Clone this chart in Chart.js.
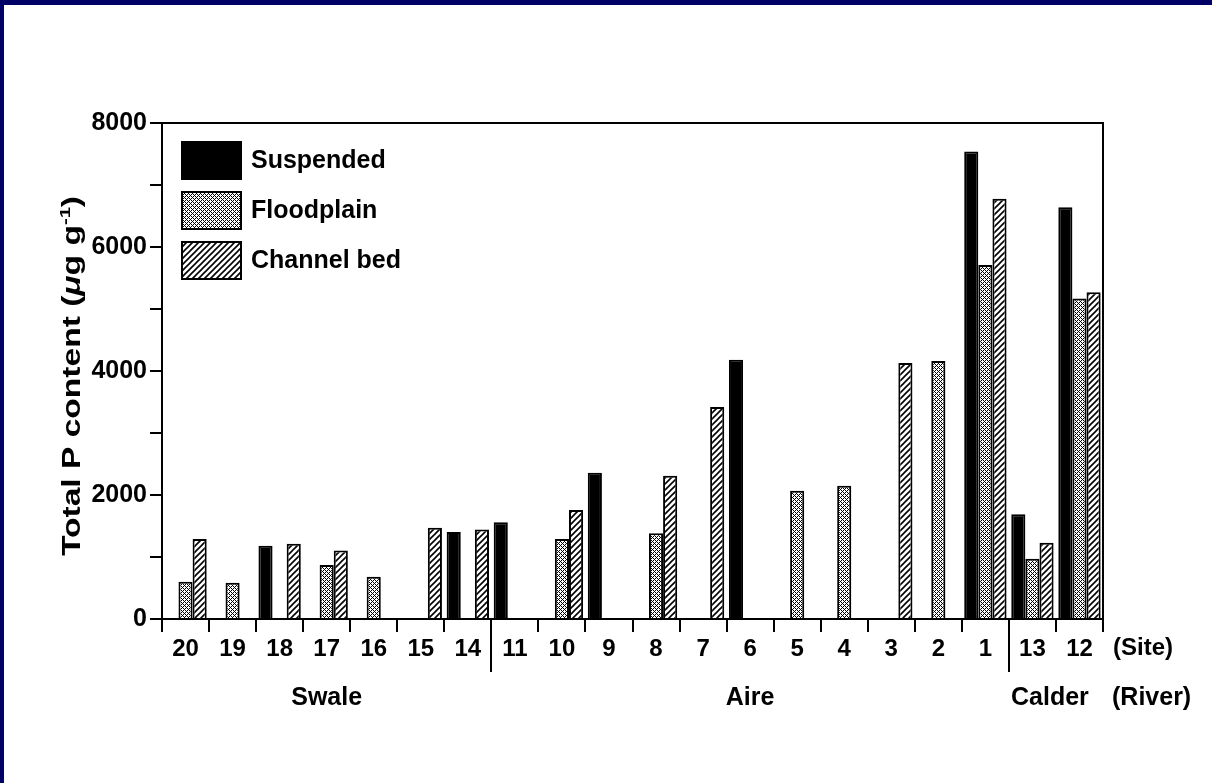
<!DOCTYPE html>
<html lang="en">
<head>
<meta charset="utf-8">
<title>Total P content by site</title>
<script src="https://cdn.jsdelivr.net/npm/chart.js@4.4.1/dist/chart.umd.min.js"></script>
<style>
  html, body { margin: 0; padding: 0; background: #000066; overflow: hidden; }
  #wrap { position: absolute; left: 4px; top: 5px; width: 1208px; height: 778px; background: #fff; }
</style>
</head>
<body>
<div id="wrap"><canvas id="chart"></canvas></div>
<script>
// sites, in the order they appear along the x axis
var sites = ['20', '19', '18', '17', '16', '15', '14', '11', '10', '9', '8', '7', '6', '5', '4', '3', '2', '1', '13', '12'];

// total P content (ug/g), null where there is no bar
var suspended  = [null, null, 1180, null, null, null, 1405, 1560, null, 2360, null, null, 4180, null, null, null, null, 7540, 1690, 6640];
var floodplain = [600, 585, null, 870, 680, null, null, null, 1290, null, 1385, null, null, 2070, 2150, null, 4160, 5710, 970, 5170];
var channelBed = [1290, null, 1215, 1105, null, 1470, 1445, null, 1760, null, 2310, 3420, null, null, null, 4130, null, 6780, 1230, 5270];

var seriesNames = ['Suspended', 'Floodplain', 'Channel bed'];

var yTickValues = [0, 1000, 2000, 3000, 4000, 5000, 6000, 7000, 8000];
var yTickLabels = ['0', '', '2000', '', '4000', '', '6000', '', '8000'];

// river groups: name, first and last site index
var rivers     = ['Swale', 'Aire', 'Calder'];
var riverFirst = [0, 7, 18];
var riverLast  = [6, 17, 19];

var FONT = '"Liberation Sans", Arial, Helvetica, sans-serif';

// fill patterns
function stipple() {
  var c = document.createElement('canvas');
  c.width = 4; c.height = 4;
  var g = c.getContext('2d');
  g.fillStyle = '#fff';
  g.fillRect(0, 0, 4, 4);
  g.fillStyle = '#000';
  for (var x = 0; x < 4; x++) {
    for (var y = 0; y < 4; y++) {
      if ((x + y) % 4 === 0 || (x - y + 4) % 4 === 0) g.fillRect(x, y, 1, 1);
    }
  }
  return g.createPattern(c, 'repeat');
}

function hatch() {
  var c = document.createElement('canvas');
  c.width = 6; c.height = 6;
  var g = c.getContext('2d');
  g.fillStyle = '#fff';
  g.fillRect(0, 0, 6, 6);
  g.strokeStyle = '#000';
  g.lineWidth = 1.6;
  g.beginPath();
  g.moveTo(-3, 3); g.lineTo(3, -3);
  g.moveTo(0, 6); g.lineTo(6, 0);
  g.moveTo(3, 9); g.lineTo(9, 3);
  g.stroke();
  return g.createPattern(c, 'repeat');
}

var fills = ['#000', stipple(), hatch()];

// extra drawing: frame, river labels, separators, legend, axis title
var extras = {
  id: 'extras',
  afterDraw: function(chart) {
    var ctx = chart.ctx, a = chart.chartArea, xs = chart.scales.x;
    var half = (xs.getPixelForValue(1) - xs.getPixelForValue(0)) / 2;
    function leftOf(i) { return xs.getPixelForValue(i) - half; }
    function rightOf(i) { return xs.getPixelForValue(i) + half; }

    ctx.save();
    ctx.strokeStyle = '#000';
    ctx.lineWidth = 2;
    ctx.strokeRect(a.left, a.top, a.right - a.left, a.bottom - a.top);

    // long separators between rivers
    ctx.beginPath();
    for (var r = 0; r < rivers.length - 1; r++) {
      var sx = Math.round(rightOf(riverLast[r]));
      ctx.moveTo(sx, a.bottom);
      ctx.lineTo(sx, a.bottom + 53);
    }
    ctx.stroke();

    ctx.fillStyle = '#000';
    ctx.textBaseline = 'middle';
    ctx.textAlign = 'center';
    ctx.font = 'bold 25px ' + FONT;
    for (var i = 0; i < rivers.length; i++) {
      var cx = (leftOf(riverFirst[i]) + rightOf(riverLast[i])) / 2;
      if (i === rivers.length - 1) cx -= 6;
      ctx.fillText(rivers[i], cx, a.bottom + 79);
    }
    ctx.textAlign = 'left';
    ctx.font = 'bold 24px ' + FONT;
    ctx.fillText('(Site)', a.right + 10, a.bottom + 29);
    ctx.font = 'bold 25px ' + FONT;
    ctx.fillText('(River)', a.right + 9, a.bottom + 79);

    // legend
    var lx = a.left + 20, ly = a.top + 19;
    chart.data.datasets.forEach(function(ds, k) {
      var by = ly + k * 50;
      ctx.fillStyle = ds.backgroundColor;
      ctx.fillRect(lx, by, 59, 37);
      ctx.strokeStyle = '#000';
      ctx.lineWidth = 2;
      ctx.strokeRect(lx, by, 59, 37);
      ctx.fillStyle = '#000';
      ctx.font = 'bold 25px ' + FONT;
      ctx.fillText(ds.label, lx + 69, by + 19);
    });

    // y axis title, stretched along the text like in the original
    var parts = [
      { t: 'Total P content (', f: 'bold 25px ' + FONT, dy: 0 },
      { t: '\u03bc', f: 'italic bold 25px ' + FONT, dy: 0 },
      { t: 'g g', f: 'bold 25px ' + FONT, dy: 0 },
      { t: '-1', f: 'bold 15px ' + FONT, dy: -10 },
      { t: ')', f: 'bold 25px ' + FONT, dy: 0 }
    ];
    var total = 0;
    parts.forEach(function(p) { ctx.font = p.f; p.w = ctx.measureText(p.t).width; total += p.w; });
    var stretch = 360 / total;
    ctx.translate(76, (a.top + a.bottom) / 2 + 5);
    ctx.rotate(-Math.PI / 2);
    ctx.scale(stretch, 1);
    ctx.textBaseline = 'alphabetic';
    ctx.textAlign = 'left';
    var px = -total / 2;
    parts.forEach(function(p) {
      ctx.font = p.f;
      ctx.fillText(p.t, px, p.dy);
      px += p.w;
    });
    ctx.restore();
  }
};

var ctx = document.getElementById('chart').getContext('2d');
new Chart(ctx, {
  type: 'bar',
  data: {
    labels: sites,
    datasets: [
      { label: seriesNames[0], data: suspended,  backgroundColor: fills[0], borderColor: '#000', borderWidth: 2 },
      { label: seriesNames[1], data: floodplain, backgroundColor: fills[1], borderColor: '#000', borderWidth: 2 },
      { label: seriesNames[2], data: channelBed, backgroundColor: fills[2], borderColor: '#000', borderWidth: 2 }
    ]
  },
  options: {
    responsive: true,
    maintainAspectRatio: false,
    animation: false,
    devicePixelRatio: 1,
    categoryPercentage: 0.9,
    barPercentage: 1.0,
    layout: { padding: { left: 0, top: 118, right: 109, bottom: 0 } },
    plugins: {
      legend: { display: false },
      tooltip: { enabled: false },
      title: { display: false }
    },
    scales: {
      x: {
        offset: true,
        border: { display: true, color: '#000', width: 2 },
        grid: { display: true, offset: true, drawOnChartArea: false, drawTicks: true, tickLength: 13, color: '#000', lineWidth: 2 },
        ticks: { color: '#000', padding: 3, maxRotation: 0, autoSkip: false, font: { family: FONT, weight: 'bold', size: 24 } },
        afterFit: function(scale) { scale.height = 164; }
      },
      y: {
        min: 0,
        max: 8000,
        border: { display: true, color: '#000', width: 2 },
        grid: { display: true, drawOnChartArea: false, drawTicks: true, tickLength: 12, color: '#000', lineWidth: 2 },
        afterBuildTicks: function(scale) {
          scale.ticks = yTickValues.map(function(v) { return { value: v }; });
        },
        ticks: {
          color: '#000',
          padding: 3,
          font: { family: FONT, weight: 'bold', size: 25 },
          callback: function(v, i) { return yTickLabels[i]; }
        },
        afterFit: function(scale) { scale.width = 158; }
      }
    }
  },
  plugins: [extras]
});
</script>
</body>
</html>
